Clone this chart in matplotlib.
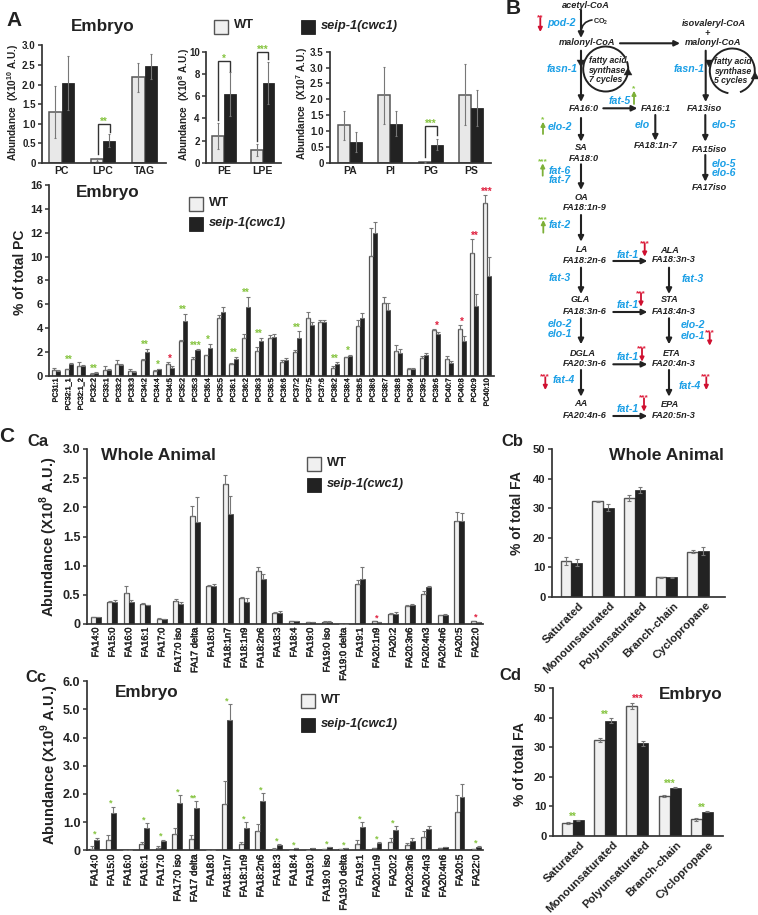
import matplotlib
matplotlib.use('Agg')
import matplotlib.pyplot as plt
import matplotlib.patheffects as pe
from matplotlib.patches import Arc, Rectangle, Polygon
from matplotlib.transforms import ScaledTranslation

plt.rcParams['font.family'] = ['Liberation Sans', 'DejaVu Sans']
plt.rcParams['mathtext.fontset'] = 'custom'
plt.rcParams['mathtext.bf'] = 'Liberation Sans:bold'
plt.rcParams['mathtext.rm'] = 'Liberation Sans:bold'

W, H = 758, 915
DARK = '#222222'
GREEN = '#86c440'
RED = '#e0213f'
BLUE = '#1b9fe6'
GENE_RED = '#cf1030'
GENE_GREEN = '#7db038'

# ---------- Panel A: abundance bars ----------
a1_cats = ['PC', 'LPC', 'TAG']
a1_wt = [1.30, 0.09, 2.18]
a1_wt_err = [0.67, 0.05, 0.38]
a1_mut = [2.05, 0.57, 2.47]
a1_mut_err = [0.69, 0.17, 0.32]

a2_cats = ['PE', 'LPE']
a2_wt = [2.4, 1.15]
a2_wt_err = [1.15, 0.52]
a2_mut = [6.2, 7.2]
a2_mut_err = [2.0, 1.9]

a3_cats = ['PA', 'PI', 'PG', 'PS']
a3_wt = [1.18, 2.13, 0.02, 2.15]
a3_wt_err = [0.46, 0.90, 0.01, 0.96]
a3_mut = [0.65, 1.23, 0.58, 1.72]
a3_mut_err = [0.31, 0.39, 0.16, 0.56]

# ---------- Panel A: PC species ----------
pc_cats = ['PC31:1', 'PC32:1_1', 'PC32:1_2', 'PC32:2', 'PC33:1', 'PC33:2', 'PC33:3',
           'PC34:2', 'PC34:4', 'PC34:5', 'PC35:2', 'PC35:3', 'PC35:4', 'PC35:5',
           'PC36:1', 'PC36:2', 'PC36:3', 'PC36:5', 'PC36:6', 'PC37:2', 'PC37:5',
           'PC37:6', 'PC38:2', 'PC38:4', 'PC38:5', 'PC38:6', 'PC38:7', 'PC38:8',
           'PC39:4', 'PC39:5', 'PC39:6', 'PC40:7', 'PC40:8', 'PC40:9', 'PC40:10']
pc_wt = [0.50, 0.55, 0.85, 0.20, 0.50, 1.00, 0.45, 1.35, 0.45, 1.00, 2.90, 1.45, 1.75, 4.85,
         1.00, 3.20, 2.10, 3.15, 1.20, 2.00, 4.85, 4.50, 0.65, 1.55, 4.15, 10.05, 6.15, 2.10,
         0.55, 1.50, 3.85, 1.40, 3.90, 10.30, 14.50]
pc_wt_err = [0.20, 0.05, 0.30, 0.05, 0.30, 0.35, 0.10, 0.05, 0.05, 0.15, 0.10, 0.10, 0.05, 0.30,
             0.05, 0.30, 0.30, 0.30, 0.15, 0.15, 0.50, 0.20, 0.15, 0.05, 0.50, 2.35, 0.45, 0.50,
             0.10, 0.15, 0.05, 0.25, 0.35, 1.15, 0.65]
pc_mut = [0.45, 1.00, 0.85, 0.25, 0.50, 0.95, 0.35, 2.05, 0.55, 0.70, 4.60, 2.15, 2.35, 5.40,
          1.45, 5.80, 2.95, 3.25, 1.35, 3.20, 4.25, 4.55, 1.00, 1.70, 4.85, 11.95, 5.50, 1.90,
          0.60, 1.75, 3.55, 1.10, 2.95, 5.90, 8.40]
pc_mut_err = [0.05, 0.05, 0.05, 0.05, 0.05, 0.05, 0.05, 0.25, 0.05, 0.10, 0.60, 0.10, 0.35, 0.35,
              0.15, 0.85, 0.25, 0.25, 0.15, 0.55, 0.30, 0.15, 0.15, 0.10, 0.40, 0.95, 0.65, 0.40,
              0.10, 0.20, 0.10, 0.15, 0.40, 1.00, 1.60]
pc_stars = {1: ('**', GREEN), 3: ('**', GREEN), 7: ('**', GREEN), 8: ('*', GREEN), 9: ('*', RED),
            10: ('**', GREEN), 11: ('***', GREEN), 12: ('*', GREEN), 14: ('**', GREEN),
            15: ('**', GREEN), 16: ('**', GREEN), 19: ('**', GREEN), 22: ('**', GREEN),
            23: ('*', GREEN), 30: ('*', RED), 32: ('*', RED), 33: ('**', RED), 34: ('***', RED)}

# ---------- Panel C: fatty acids ----------
fa_cats = ['FA14:0', 'FA15:0', 'FA16:0', 'FA16:1', 'FA17:0', 'FA17:0 iso', 'FA17 delta', 'FA18:0',
           'FA18:1n7', 'FA18:1n9', 'FA18:2n6', 'FA18:3', 'FA18:4', 'FA19:0', 'FA19:0 iso',
           'FA19:0 delta', 'FA19:1', 'FA20:1n9', 'FA20:2', 'FA20:3n6', 'FA20:4n3', 'FA20:4n6',
           'FA20:5', 'FA22:0']
ca_wt = [0.12, 0.38, 0.54, 0.35, 0.09, 0.40, 1.86, 0.65, 2.40, 0.44, 0.91, 0.19, 0.05, 0.03,
         0.04, 0.00, 0.68, 0.05, 0.18, 0.31, 0.51, 0.15, 1.77, 0.06]
ca_wt_err = [0.00, 0.02, 0.11, 0.01, 0.01, 0.03, 0.16, 0.02, 0.15, 0.03, 0.07, 0.01, 0.01, 0.01,
             0.01, 0.00, 0.07, 0.00, 0.01, 0.01, 0.05, 0.01, 0.15, 0.00]
ca_mut = [0.12, 0.37, 0.37, 0.32, 0.08, 0.35, 1.75, 0.66, 1.89, 0.38, 0.78, 0.19, 0.05, 0.03,
          0.04, 0.00, 0.78, 0.03, 0.18, 0.32, 0.63, 0.15, 1.77, 0.04]
ca_mut_err = [0.00, 0.05, 0.05, 0.01, 0.01, 0.03, 0.43, 0.02, 0.31, 0.06, 0.07, 0.03, 0.00, 0.01,
              0.01, 0.00, 0.20, 0.00, 0.02, 0.02, 0.03, 0.02, 0.14, 0.00]
ca_stars = {17: ('*', RED), 23: ('*', RED)}

cc_wt = [0.06, 0.37, 0.00, 0.22, 0.08, 0.57, 0.40, 0.00, 1.65, 0.22, 0.68, 0.05, 0.02, 0.00,
         0.03, 0.03, 0.22, 0.07, 0.30, 0.18, 0.47, 0.07, 1.35, 0.05]
cc_wt_err = [0.09, 0.18, 0.00, 0.06, 0.07, 0.23, 0.16, 0.00, 0.80, 0.06, 0.24, 0.02, 0.00, 0.00,
             0.00, 0.00, 0.15, 0.00, 0.12, 0.07, 0.20, 0.00, 0.60, 0.00]
cc_mut = [0.38, 1.32, 0.00, 0.80, 0.34, 1.67, 1.49, 0.00, 4.62, 0.80, 1.74, 0.20, 0.08, 0.07,
          0.12, 0.07, 0.84, 0.26, 0.72, 0.34, 0.75, 0.12, 1.90, 0.13]
cc_mut_err = [0.07, 0.23, 0.00, 0.17, 0.04, 0.28, 0.26, 0.00, 0.58, 0.20, 0.28, 0.02, 0.00, 0.00,
              0.00, 0.00, 0.16, 0.04, 0.15, 0.08, 0.13, 0.00, 0.45, 0.03]
cc_stars = {0: '*', 1: '*', 3: '*', 4: '*', 5: '*', 6: '**', 8: '*', 9: '*', 10: '*', 11: '*',
            12: '*', 14: '*', 15: '*', 16: '*', 17: '*', 18: '*', 23: '*'}

group_cats = ['Saturated', 'Monounsaturated', 'Polyunsaturated', 'Branch-chain', 'Cyclopropane']
cb_wt = [12.0, 32.3, 33.5, 6.6, 15.3]
cb_wt_err = [1.4, 0.2, 1.0, 0.2, 0.5]
cb_mut = [11.6, 30.2, 36.2, 6.6, 15.6]
cb_mut_err = [1.1, 1.1, 1.0, 0.1, 1.3]

cd_wt = [4.3, 32.5, 44.0, 13.6, 5.6]
cd_wt_err = [0.4, 0.7, 1.1, 0.3, 0.6]
cd_mut = [5.3, 39.0, 31.4, 16.3, 8.2]
cd_mut_err = [0.1, 0.8, 0.8, 0.2, 0.2]
cd_stars = {0: ('**', GREEN), 1: ('**', GREEN), 2: ('***', RED), 3: ('***', GREEN), 4: ('**', GREEN)}

fig = plt.figure(figsize=(W / 100, H / 100), dpi=100, facecolor='white')


def make_axes(x0, ytop, x1, ybot, ymax, c0, step):
    ax = fig.add_axes([x0 / W, 1 - ybot / H, (x1 - x0) / W, (ybot - ytop) / H])
    ax.set_xlim((x0 - c0) / step, (x1 - c0) / step)
    ax.set_ylim(0, ymax)
    ax.patch.set_alpha(0)
    for s in ('top', 'right'):
        ax.spines[s].set_visible(False)
    for s in ('left', 'bottom'):
        ax.spines[s].set_linewidth(1.25)
        ax.spines[s].set_color('#333333')
    return ax


def bars(ax, wt, wt_err, mut, mut_err, w, edge_lw, both, err_c='#777777', cap=1.5, wt_fill='#f0f0f0'):
    xs = list(range(len(wt)))
    xw = [x - w / 2 for x in xs]
    xm = [x + w / 2 for x in xs]
    ax.bar(xw, wt, w, color=wt_fill, edgecolor='#555555', linewidth=edge_lw, zorder=2)
    ax.bar(xm, mut, w, color=DARK, edgecolor=DARK, linewidth=edge_lw * 0.5, zorder=2)
    low_w = wt_err if both else [0] * len(wt)
    low_m = mut_err if both else [0] * len(mut)
    ax.errorbar(xw, wt, yerr=[low_w, wt_err], fmt='none', ecolor=err_c, elinewidth=0.8,
                capsize=cap, capthick=0.8, zorder=3)
    ax.errorbar(xm, mut, yerr=[low_m, mut_err], fmt='none', ecolor=err_c, elinewidth=0.8,
                capsize=cap, capthick=0.8, zorder=3)


def ticks(ax, yt, ylabs, ysize, cats, xsize, xpad, rot=0, weight='bold', medium=False):
    ax.set_yticks(yt)
    ax.set_yticklabels(ylabs, fontsize=ysize, fontweight='bold', color=DARK)
    ax.tick_params(axis='y', length=3, width=1.1, pad=1.5, color='#333333')
    ax.set_xticks(range(len(cats)))
    ax.set_xticklabels(cats, fontsize=xsize, fontweight=weight, rotation=rot, color=DARK)
    ax.tick_params(axis='x', length=0, pad=xpad)
    if medium:
        for t in ax.get_xticklabels():
            t.set_path_effects([pe.withStroke(linewidth=0.3, foreground=DARK)])


def star(ax, x, y, s, color, size=7, off=0.5):
    ax.annotate(s, xy=(x, y), xytext=(0, off), textcoords='offset points', ha='center',
                va='baseline', fontsize=size, color=color, fontweight='bold', zorder=5,
                annotation_clip=False)


def bracket(ax, x0, x1, y0, ytop, y1, s):
    ax.plot([x0, x0, x1, x1], [y0, ytop, ytop, y1], color='#333333', lw=1.0, zorder=4,
            solid_joinstyle='miter', clip_on=False)
    star(ax, (x0 + x1) / 2, ytop, s, GREEN, size=7, off=-0.5)


# A1
ax = make_axes(42, 45.3, 166, 163, 3.0, 61.5, 41.5)
bars(ax, a1_wt, a1_wt_err, a1_mut, a1_mut_err, 0.29, 1.1, True, cap=0.6, wt_fill='#e8e8e8')
ticks(ax, [0, .5, 1, 1.5, 2, 2.5, 3], ['0', '0.5', '1.0', '1.5', '2.0', '2.5', '3.0'], 7, a1_cats, 7.5, 2.5)
bracket(ax, 0.87, 1.16, 0.23, 1.0, 0.8, '**')

# A2
ax = make_axes(206, 51.7, 281, 163, 10, 224, 38.5)
bars(ax, a2_wt, a2_wt_err, a2_mut, a2_mut_err, 0.30, 1.1, True, cap=0.6, wt_fill='#e8e8e8')
ticks(ax, [0, 2, 4, 6, 8, 10], ['0', '2', '4', '6', '8', '10'], 7, a2_cats, 7.5, 2.5)
bracket(ax, -0.15, 0.15, 3.9, 9.16, 8.3, '*')
bracket(ax, 0.85, 1.15, 1.94, 10.0, 9.3, '***')

# A3
ax = make_axes(330, 51.7, 491, 163, 3.5, 350, 40.3)
bars(ax, a3_wt, a3_wt_err, a3_mut, a3_mut_err, 0.30, 1.1, True, cap=0.6, wt_fill='#e8e8e8')
ticks(ax, [0, .5, 1, 1.5, 2, 2.5, 3, 3.5], ['0', '0.5', '1.0', '1.5', '2.0', '2.5', '3.0', '3.5'], 7, a3_cats, 7.5, 2.5)
bracket(ax, 1.87, 2.16, 0.2, 1.15, 0.89, '***')

# PC
ax = make_axes(49, 185, 494, 376, 16, 56, 12.68)
bars(ax, pc_wt, pc_wt_err, pc_mut, pc_mut_err, 0.32, 0.9, False, cap=1.2)
ticks(ax, list(range(0, 17, 2)), [str(v) for v in range(0, 17, 2)], 8, pc_cats, 5.2, 1.5, rot=90,
      weight='normal', medium=True)
for i, (s, c) in pc_stars.items():
    star(ax, i, max(pc_wt[i] + pc_wt_err[i], pc_mut[i] + pc_mut_err[i]), s, c, size=7)

# Ca
ax = make_axes(86.7, 449, 483, 624, 3.0, 95.7, 16.52)
bars(ax, ca_wt, ca_wt_err, ca_mut, ca_mut_err, 0.30, 0.9, False, cap=1.2)
ticks(ax, [0, .5, 1, 1.5, 2, 2.5, 3], ['0', '0.5', '1.0', '1.5', '2.0', '2.5', '3.0'], 9, fa_cats, 6.8, 2.5,
      rot=90, weight='normal', medium=True)
for i, (s, c) in ca_stars.items():
    star(ax, i, max(ca_wt[i] + ca_wt_err[i], ca_mut[i] + ca_mut_err[i]), s, c, size=6.5)

# Cc
ax = make_axes(86.7, 681.3, 483, 850.3, 6.0, 94.3, 16.6)
bars(ax, cc_wt, cc_wt_err, cc_mut, cc_mut_err, 0.30, 0.9, False, cap=1.2)
ticks(ax, [0, 1, 2, 3, 4, 5, 6], ['0', '1.0', '2.0', '3.0', '4.0', '5.0', '6.0'], 9, fa_cats, 7.2, 3,
      rot=90, weight='normal', medium=True)
for i, s in cc_stars.items():
    star(ax, i, max(cc_wt[i] + cc_wt_err[i], cc_mut[i] + cc_mut_err[i]), s, GREEN, size=6.5)


def rotated(ax, cats, dx, dy):
    ax.set_xticks(range(len(cats)))
    ax.set_xticklabels(cats, fontsize=8.2, fontweight='bold', rotation=45, ha='right', va='top',
                       rotation_mode='anchor', color=DARK)
    off = ScaledTranslation(dx / 100, dy / 100, fig.dpi_scale_trans)
    for t in ax.get_xticklabels():
        t.set_transform(t.get_transform() + off)


# Cb
ax = make_axes(551.7, 449.3, 725, 596.7, 50, 571.3, 31.7)
bars(ax, cb_wt, cb_wt_err, cb_mut, cb_mut_err, 0.34, 1.0, True, cap=1.6)
ticks(ax, [0, 10, 20, 30, 40, 50], ['0', '10', '20', '30', '40', '50'], 8, group_cats, 8.2, 2)
rotated(ax, group_cats, 7, -1)

# Cd
ax = make_axes(552.7, 688.3, 722.7, 836, 50, 573, 32.2)
bars(ax, cd_wt, cd_wt_err, cd_mut, cd_mut_err, 0.34, 1.0, True, cap=1.6)
ticks(ax, [0, 10, 20, 30, 40, 50], ['0', '10', '20', '30', '40', '50'], 8, group_cats, 8.2, 2)
rotated(ax, group_cats, 7, -1)
for i, (s, c) in cd_stars.items():
    star(ax, i, max(cd_wt[i] + cd_wt_err[i], cd_mut[i] + cd_mut_err[i]), s, c, size=7)

# ---------- overlay in pixel coordinates: titles, legends, pathway ----------
ov = fig.add_axes([0, 0, 1, 1], zorder=20)
ov.set_xlim(0, W)
ov.set_ylim(H, 0)
ov.axis('off')


def T(x, y, s, size=8, ha='center', color=DARK, style='normal', weight='bold', rot=0):
    ov.text(x, y, s, fontsize=size, ha=ha, va='center', color=color, fontstyle=style,
            fontweight=weight, rotation=rot)


# panel letters and titles
T(14, 21, 'A', 15)
T(513, 9, 'B', 15)
T(7, 437, 'C', 15)
T(38, 442, 'Ca', 12)
T(512, 442, 'Cb', 12)
T(36, 677, 'Cc', 12)
T(510, 676, 'Cd', 12)
T(103, 26, 'Embryo', 12.3)
T(108, 193, 'Embryo', 12.3)
T(158, 456, 'Whole Animal', 12.6)
T(666, 456, 'Whole Animal', 12.6)
T(147, 693, 'Embryo', 12.3)
T(691, 694, 'Embryo', 12.3)

# y labels
T(13, 103, 'Abundance  (X10$^{\\mathbf{10}}$ A.U.)', 7.2, rot=90)
T(184, 104, 'Abundance  (X10$^{\\mathbf{8}}$ A.U.)', 7.2, rot=90)
T(302, 103, 'Abundance  (X10$^{\\mathbf{7}}$ A.U.)', 7.2, rot=90)
T(20, 272, '% of total PC', 10, rot=90)
T(49, 537, 'Abundance (X10$^{\\mathbf{8}}$ A.U.)', 10.5, rot=90)
T(50, 765, 'Abundance (X10$^{\\mathbf{9}}$ A.U.)', 10.5, rot=90)
T(517, 513, '% of total FA', 10, rot=90)
T(520, 764, '% of total FA', 10, rot=90)


def legend(x, y1, y2, size=9.3, box=14):
    ov.add_patch(Rectangle((x, y1), box, box, facecolor='#f0f0f0', edgecolor='#555555', lw=1.0))
    ov.add_patch(Rectangle((x, y2), box, box, facecolor=DARK, edgecolor=DARK, lw=0.6))
    T(x + box + 6, y1 + box / 2 - 1, 'WT', size, ha='left')
    T(x + box + 6, y2 + box / 2 - 1, 'seip-1(cwc1)', size, ha='left', style='italic')


legend(189, 197, 217)
legend(307, 457, 478)
legend(301, 694, 718)
ov.add_patch(Rectangle((214, 20), 14, 14, facecolor='#f0f0f0', edgecolor='#555555', lw=1.0))
ov.add_patch(Rectangle((301, 20), 14, 14, facecolor=DARK, edgecolor=DARK, lw=0.6))
T(234, 25.5, 'WT', 9.3, ha='left')
T(321, 26, 'seip-1(cwc1)', 9.3, ha='left', style='italic')

# pathway nodes
metabolites = [
    (585.7, 5.7, 'acetyl-CoA'), (586.7, 42.7, 'malonyl-CoA'), (714.3, 24, 'isovaleryl-CoA'),
    (707.3, 33.3, '+'), (713, 42.7, 'malonyl-CoA'), (584, 108.3, 'FA16:0'), (655.7, 108.3, 'FA16:1'),
    (704.7, 108.3, 'FA13iso'), (581, 147, 'SA'), (584, 158.3, 'FA18:0'), (655.7, 146, 'FA18:1n-7'),
    (709, 149, 'FA15iso'), (709, 187.3, 'FA17iso'), (581, 197.3, 'OA'), (585, 207.3, 'FA18:1n-9'),
    (582.3, 250, 'LA'), (585, 260.3, 'FA18:2n-6'), (670, 250.3, 'ALA'), (673.3, 260, 'FA18:3n-3'),
    (580.3, 300, 'GLA'), (585, 311, 'FA18:3n-6'), (670, 300, 'STA'), (673.3, 311, 'FA18:4n-3'),
    (583, 353, 'DGLA'), (585, 363.7, 'FA20:3n-6'), (671.3, 354, 'ETA'), (673.3, 363.7, 'FA20:4n-3'),
    (580.7, 403.7, 'AA'), (585, 415.7, 'FA20:4n-6'), (670, 404.3, 'EPA'), (673.3, 415.7, 'FA20:5n-3'),
]
cycle_text = [
    (607.7, 60.3, 'fatty acid'), (607.7, 70.3, 'synthase'), (605.7, 79.3, '7 cycles'),
    (733, 61.7, 'fatty acid'), (733, 71, 'synthase'), (731, 80.3, '5 cycles'),
]
genes = [
    (561.3, 23.3, 'pod-2'), (562.3, 68.7, 'fasn-1'), (688.7, 68.7, 'fasn-1'), (620, 100.7, 'fat-5'),
    (560.3, 126.7, 'elo-2'), (642.7, 125, 'elo'), (724.3, 124.7, 'elo-5'), (559.3, 171, 'fat-6'),
    (559.3, 180, 'fat-7'), (724.3, 164, 'elo-5'), (724.3, 173.3, 'elo-6'), (559.3, 225.3, 'fat-2'),
    (627.7, 254.7, 'fat-1'), (559.3, 277.7, 'fat-3'), (692.3, 278.7, 'fat-3'), (627.7, 304.7, 'fat-1'),
    (560.3, 324, 'elo-2'), (560.3, 334.3, 'elo-1'), (692.7, 324.7, 'elo-2'), (692.7, 336, 'elo-1'),
    (627.7, 357, 'fat-1'), (563.7, 380, 'fat-4'), (689.3, 385.7, 'fat-4'), (627.7, 409, 'fat-1'),
]
flow_arrows = [
    (581, 10, 581, 38), (620, 43.3, 680, 43.3), (581, 50.7, 581, 102), (705.7, 50.7, 705.7, 102),
    (603.3, 108.3, 637.3, 108.3), (581, 118, 581, 141.7), (655.3, 115, 655.3, 140.7),
    (705.3, 115, 705.3, 141.7), (705.3, 155, 705.3, 181.7), (581, 164.3, 581, 190),
    (581, 215, 581, 241.7), (581, 267.7, 581, 294), (669, 267.7, 669, 294), (581, 318.3, 581, 344.3),
    (669, 318.3, 669, 344.3), (581, 370, 581, 396.7), (669, 370, 669, 396.7),
    (613.3, 261, 647.3, 261), (613.3, 312, 647.3, 312), (613.3, 364.3, 647.3, 364.3),
    (613.3, 416, 647.3, 416),
]
regulation = [
    (540.3, 18, 32, '**', 'r', 15.7), (634, 104, 90.7, '*', 'g', 87), (543, 134, 121.7, '*', 'g', 118),
    (542.7, 175.7, 163.3, '***', 'g', 160), (543.3, 232.7, 220, '***', 'g', 217.3),
    (644.7, 243.3, 256.7, '***', 'r', 241.7), (641, 293.3, 306.7, '***', 'r', 291.7),
    (709.7, 332.7, 345.7, '***', 'r', 330.7), (642, 348.3, 361.7, '***', 'r', 346.7),
    (545.3, 377.3, 390, '***', 'r', 375), (706.3, 377.3, 390, '***', 'r', 375),
    (644, 398.3, 411.7, '***', 'r', 396),
]


def arrow(x0, y0, x1, y1, color=DARK, lw=1.5, ms=8):
    ov.annotate('', xy=(x1, y1), xytext=(x0, y0),
                arrowprops=dict(arrowstyle='-|>', lw=lw, color=color, mutation_scale=ms,
                                shrinkA=0, shrinkB=0))


for x, y, s in metabolites:
    T(x, y, s, 6.6, style='italic')
for x, y, s in cycle_text:
    T(x, y, s, 6.2, style='italic')
for x, y, s in genes:
    T(x, y, s, 7.6, color=BLUE, style='italic')
T(600.7, 22.3, 'CO$_{\\mathbf{2}}$', 5.2)
for a in flow_arrows:
    arrow(*a)
for x, y0, y1, s, c, ys in regulation:
    col = GENE_RED if c == 'r' else GENE_GREEN
    arrow(x, y0, x, y1, color=col, lw=1.3, ms=6)
    ov.text(x, ys + 2, s, fontsize=6, ha='center', va='center', color=RED if c == 'r' else GREEN,
            fontweight='bold')

# CO2 hook, synthase cycles
ov.annotate('', xy=(581, 32), xytext=(592, 20),
            arrowprops=dict(arrowstyle='-', lw=1.2, color=DARK, connectionstyle='arc3,rad=0.4',
                            shrinkA=0, shrinkB=0))
ov.add_patch(Arc((605.7, 69), 45, 45, theta1=-20, theta2=330, lw=1.4, color=DARK))
ov.add_patch(Arc((732.3, 71), 45, 45, theta1=100, theta2=70, lw=1.4, color=DARK))
for pts in [[(581, 67), (585, 60), (577, 60)], [(628, 68), (624, 75), (632, 75)],
            [(709, 67), (713, 60), (705, 60)], [(755, 72), (751, 79), (759, 79)]]:
    ov.add_patch(Polygon(pts, closed=True, facecolor=DARK, edgecolor=DARK, lw=0.3))

fig.savefig('out.png', dpi=100, facecolor='white')
